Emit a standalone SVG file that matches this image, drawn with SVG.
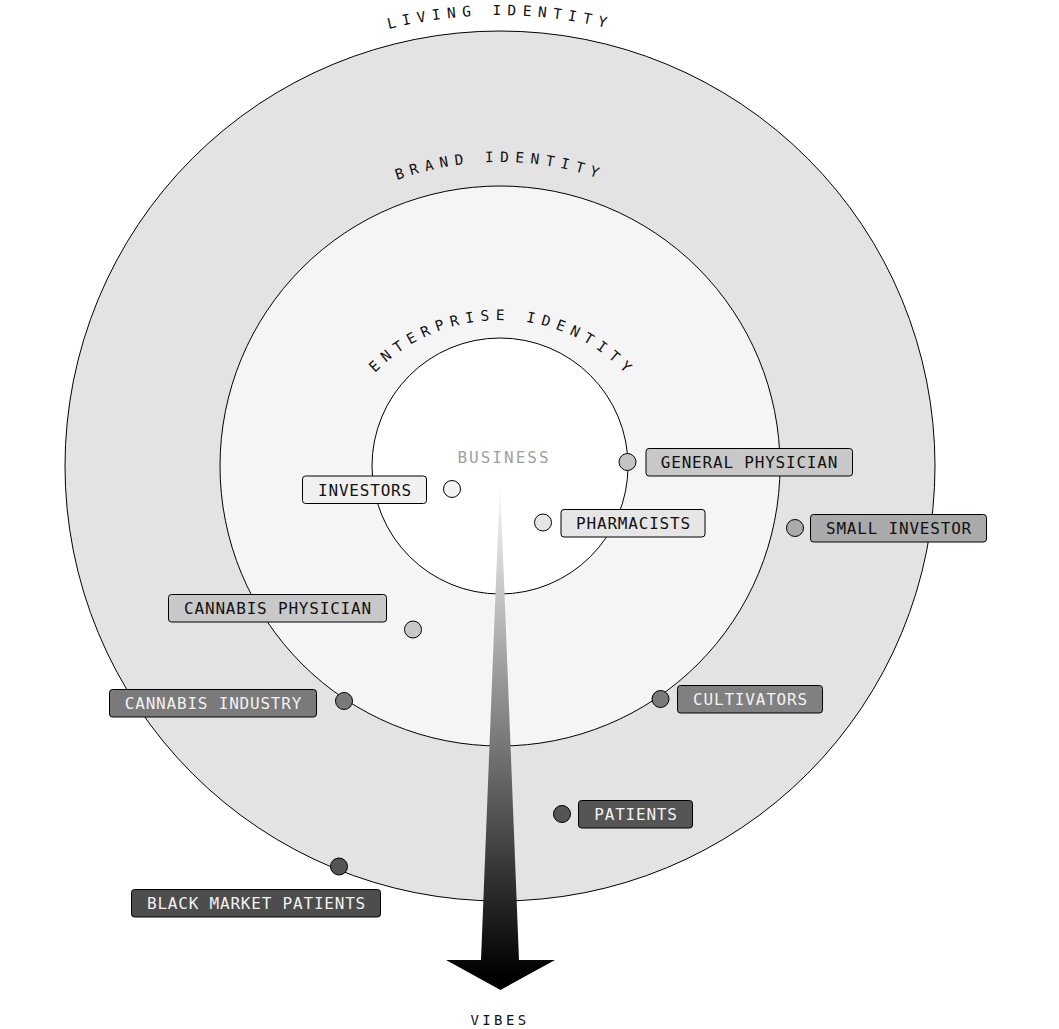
<svg xmlns="http://www.w3.org/2000/svg" width="1059" height="1029" viewBox="0 0 1059 1029">
<defs>
<style>
.ring{stroke:#000;stroke-width:1}
.arc{font-family:"DejaVu Sans Mono","Liberation Mono",monospace;font-size:14.5px;letter-spacing:6.3px;fill:#111}
.box{stroke:#000;stroke-width:1}
.lbl{font-family:"DejaVu Sans Mono","Liberation Mono",monospace;font-size:16px;letter-spacing:0.8px;text-anchor:middle}
.dot{stroke:#000;stroke-width:1}
.dk{fill:#111}
.lt{fill:#f2f2f2}
</style>
<path id="pLiving" d="M 49,466 A 451 451 0 0 1 951,466"/>
<path id="pBrand" d="M 196,466 A 304 304 0 0 1 804,466"/>
<path id="pEnt" d="M 326,494 A 174 174 0 0 1 674,494"/>
<linearGradient id="gArrow" gradientUnits="userSpaceOnUse" x1="0" y1="480" x2="0" y2="975">
<stop offset="0" stop-color="#ffffff"/>
<stop offset="1" stop-color="#000000"/>
</linearGradient>
</defs>
<rect width="1059" height="1029" fill="#ffffff"/>
<g id="rings">
<circle class="ring" cx="500" cy="466" r="435" fill="#e3e3e3"/>
<circle class="ring" cx="500" cy="466" r="280" fill="#f5f5f5"/>
<circle class="ring" cx="500" cy="466" r="128" fill="#ffffff"/>
</g>
<g id="ring-labels">
<text class="arc"><textPath href="#pLiving" startOffset="50%" text-anchor="middle">LIVING IDENTITY</textPath></text>
<text class="arc"><textPath href="#pBrand" startOffset="50%" text-anchor="middle">BRAND IDENTITY</textPath></text>
<text class="arc"><textPath href="#pEnt" startOffset="50.6%" text-anchor="middle">ENTERPRISE IDENTITY</textPath></text>
</g>
<g id="connectors">
<polygon points="500,480 519,960 555,960 500.5,990 446,960 481,960" fill="url(#gArrow)"/>
</g>
<g id="business">
<text x="504" y="463" font-family="DejaVu Sans Mono, Liberation Mono, monospace" font-size="16" letter-spacing="2" text-anchor="middle" fill="#a0a0a0">BUSINESS</text>
</g>
<g id="vibes">
<text x="500" y="1025" font-family="DejaVu Sans Mono, Liberation Mono, monospace" font-size="14" letter-spacing="3.4" text-anchor="middle" fill="#111">VIBES</text>
</g>
<g id="node-general-physician">
<circle class="dot" cx="627.5" cy="462" r="8.5" fill="#c4c4c4"/>
<rect class="box" x="646" y="448.5" width="206.5" height="27.5" rx="3" fill="#c8c8c8"/>
<text class="lbl dk" x="749.5" y="468">GENERAL PHYSICIAN</text>
</g>
<g id="node-investors">
<circle class="dot" cx="452" cy="489" r="8.5" fill="#f2f2f2"/>
<rect class="box" x="302.5" y="476" width="124" height="27.5" rx="3" fill="#f0f0f0"/>
<text class="lbl dk" x="365" y="495.5">INVESTORS</text>
</g>
<g id="node-pharmacists">
<circle class="dot" cx="543" cy="522.5" r="8.5" fill="#e6e6e6"/>
<rect class="box" x="561" y="509.5" width="144" height="27.5" rx="3" fill="#e6e6e6"/>
<text class="lbl dk" x="633.5" y="529">PHARMACISTS</text>
</g>
<g id="node-small-investor">
<circle class="dot" cx="795" cy="528" r="8.5" fill="#aaaaaa"/>
<rect class="box" x="810.5" y="514.5" width="176" height="27.5" rx="3" fill="#aaaaaa"/>
<text class="lbl dk" x="899" y="534">SMALL INVESTOR</text>
</g>
<g id="node-cannabis-physician">
<circle class="dot" cx="413" cy="629.5" r="8.5" fill="#c8c8c8"/>
<rect class="box" x="168.5" y="594.5" width="218" height="27.5" rx="3" fill="#c8c8c8"/>
<text class="lbl dk" x="278" y="614">CANNABIS PHYSICIAN</text>
</g>
<g id="node-cannabis-industry">
<circle class="dot" cx="344" cy="701" r="8.5" fill="#7a7a7a"/>
<rect class="box" x="109.5" y="689.5" width="207" height="27.5" rx="3" fill="#7a7a7a"/>
<text class="lbl lt" x="213.5" y="709">CANNABIS INDUSTRY</text>
</g>
<g id="node-cultivators">
<circle class="dot" cx="660.5" cy="699" r="8.5" fill="#7a7a7a"/>
<rect class="box" x="677.5" y="685.5" width="145" height="27.5" rx="3" fill="#808080"/>
<text class="lbl lt" x="750.5" y="705">CULTIVATORS</text>
</g>
<g id="node-patients">
<circle class="dot" cx="562" cy="814" r="8.5" fill="#555555"/>
<rect class="box" x="578.5" y="800.5" width="114" height="27.5" rx="3" fill="#555555"/>
<text class="lbl lt" x="636" y="820">PATIENTS</text>
</g>
<g id="node-black-market-patients">
<circle class="dot" cx="339" cy="866.5" r="8.5" fill="#555555"/>
<rect class="box" x="131.5" y="889.5" width="249" height="27.5" rx="3" fill="#4d4d4d"/>
<text class="lbl lt" x="256.5" y="909">BLACK MARKET PATIENTS</text>
</g>
</svg>
